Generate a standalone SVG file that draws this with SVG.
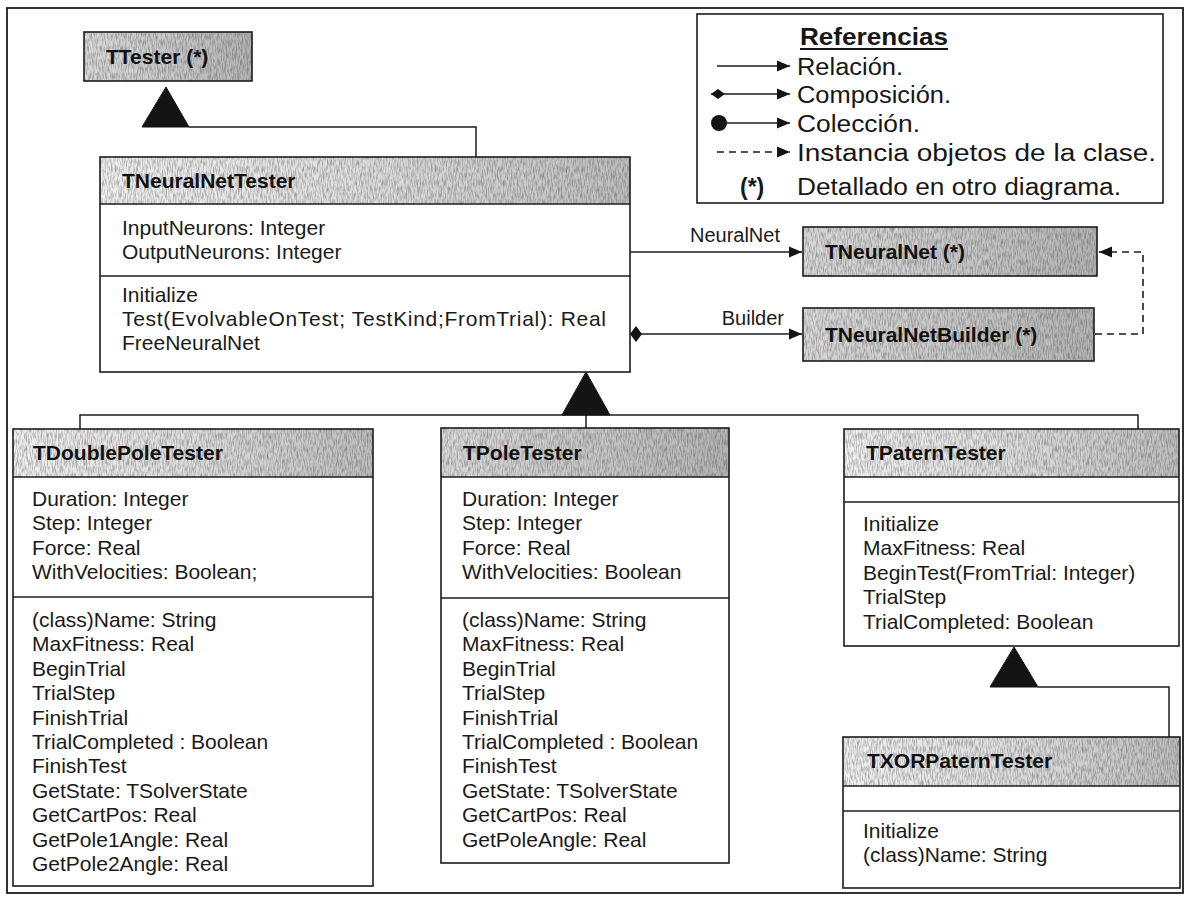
<svg xmlns="http://www.w3.org/2000/svg" width="1186" height="898" viewBox="0 0 1186 898">
  <style>
    .frame { fill: none; stroke: #1c1c1c; stroke-width: 1.8; }
    .box { fill: none; stroke: #1c1c1c; stroke-width: 1.6; }
    .body { fill: #ffffff; }
    .div { stroke: #1c1c1c; stroke-width: 1.4; }
    .title { font-family: "Liberation Sans", Arial, sans-serif; font-weight: bold; font-size: 21px; fill: #111; }
    .member { font-family: "Liberation Sans", Arial, sans-serif; font-size: 21px; fill: #1a1a1a; }
    .role { font-family: "Liberation Sans", Arial, sans-serif; font-size: 20px; fill: #1a1a1a; }
    .conn { fill: none; stroke: #1c1c1c; stroke-width: 1.5; }
    .dash { fill: none; stroke: #1c1c1c; stroke-width: 1.6; stroke-dasharray: 7 5; }
    .tri { fill: #141414; stroke: #141414; stroke-width: 1; }
    .legend { font-family: "Liberation Sans Narrow", "Liberation Sans", Arial, sans-serif; font-size: 23px; fill: #161616; }
    .legendhead { font-family: "Liberation Sans Narrow", "Liberation Sans", Arial, sans-serif; font-size: 23px; font-weight: bold; fill: #161616; }
  </style>
  <defs>
    <!-- shaded class headers -->
    <linearGradient id="hdrLight" x1="0" y1="0" x2="1" y2="0">
      <stop offset="0" stop-color="#f0f0f0"/>
      <stop offset="0.5" stop-color="#dddddd"/>
      <stop offset="1" stop-color="#bdbdbd"/>
    </linearGradient>
    <linearGradient id="hdrDark" x1="0" y1="0" x2="1" y2="0">
      <stop offset="0" stop-color="#d9d9d9"/>
      <stop offset="0.5" stop-color="#c8c8c8"/>
      <stop offset="1" stop-color="#b3b3b3"/>
    </linearGradient>
    <filter id="grain" x="0" y="0" width="1" height="1" color-interpolation-filters="sRGB">
      <feTurbulence type="fractalNoise" baseFrequency="0.8 0.15" numOctaves="2" seed="7" result="noise"/>
      <feColorMatrix in="noise" type="matrix" values="0 0 0 0 0.3  0 0 0 0 0.3  0 0 0 0 0.3  1.1 0 0 0 -0.42" result="specks"/>
      <feComposite in="specks" in2="SourceGraphic" operator="atop"/>
    </filter>
    <marker id="arrow" markerUnits="userSpaceOnUse" markerWidth="14" markerHeight="12" refX="13" refY="6" orient="auto">
      <path d="M0,0.5 L13,6 L0,11.5 Z" fill="#141414"/>
    </marker>
    <marker id="diamond" markerUnits="userSpaceOnUse" markerWidth="14" markerHeight="18" refX="1" refY="9" orient="auto">
      <path d="M1,9 L7,1 L13,9 L7,17 Z" fill="#141414"/>
    </marker>
    <marker id="flatDiamond" markerUnits="userSpaceOnUse" markerWidth="16" markerHeight="12" refX="1" refY="6" orient="auto">
      <path d="M1,6 L8,1 L15,6 L8,11 Z" fill="#141414"/>
    </marker>
  </defs>

  <rect width="1186" height="898" fill="#ffffff"/>
  <rect class="frame" x="7" y="8" width="1176" height="885"/>

  <!-- connectors -->
  <g id="connectors">
    <!-- TNeuralNetTester generalises TTester -->
    <polyline class="conn" points="189,127 476,127 476,157"/>
    <polygon class="tri" points="166,87 142,127 189,127"/>
    <!-- three testers generalise TNeuralNetTester -->
    <polyline class="conn" points="80,429 80,415 1138,415 1138,429"/>
    <line class="conn" x1="586" y1="415" x2="586" y2="428"/>
    <polygon class="tri" points="586,372 562,415 610,415"/>
    <!-- TXORPaternTester generalises TPaternTester -->
    <polyline class="conn" points="1038,687 1169,687 1169,737"/>
    <polygon class="tri" points="1014,647 990,687 1038,687"/>
    <!-- associations -->
    <line class="conn" x1="630" y1="252" x2="802" y2="252" marker-end="url(#arrow)"/>
    <text class="role" x="780" y="242" text-anchor="end">NeuralNet</text>
    <line class="conn" x1="630" y1="334" x2="802" y2="334" marker-start="url(#diamond)" marker-end="url(#arrow)"/>
    <text class="role" x="784" y="325" text-anchor="end">Builder</text>
    <!-- builder instantiates the net -->
    <polyline class="dash" points="1095,334 1143,334 1143,252 1099,252" marker-end="url(#arrow)"/>
  </g>

  <!-- legend -->
  <g id="legend">
    <rect class="box" x="697" y="14" width="466" height="189" fill="#ffffff" stroke-width="2"/>
    <text class="legendhead" x="800" y="45" textLength="148" lengthAdjust="spacingAndGlyphs">Referencias</text>
    <line x1="800" y1="49" x2="948" y2="49" stroke="#161616" stroke-width="2"/>
    <line class="conn" x1="717" y1="66" x2="790" y2="66" marker-end="url(#arrow)"/>
    <text class="legend" x="797" y="75" textLength="106" lengthAdjust="spacingAndGlyphs">Relación.</text>
    <line class="conn" x1="711" y1="94" x2="790" y2="94" marker-start="url(#flatDiamond)" marker-end="url(#arrow)"/>
    <text class="legend" x="797" y="103" textLength="154" lengthAdjust="spacingAndGlyphs">Composición.</text>
    <circle cx="719" cy="123" r="8" fill="#141414"/>
    <line class="conn" x1="719" y1="123" x2="790" y2="123" marker-end="url(#arrow)"/>
    <text class="legend" x="797" y="132" textLength="123" lengthAdjust="spacingAndGlyphs">Colección.</text>
    <line class="dash" x1="717" y1="152" x2="790" y2="152" stroke-dasharray="8 7" marker-end="url(#arrow)"/>
    <text class="legend" x="797" y="161" textLength="359" lengthAdjust="spacingAndGlyphs">Instancia objetos de la clase.</text>
    <text class="legendhead" x="740" y="195" font-size="20">(*)</text>
    <text class="legend" x="797" y="195" textLength="324" lengthAdjust="spacingAndGlyphs">Detallado en otro diagrama.</text>
  </g>

  <!-- classes -->
  <g id="ttester">
    <rect x="84" y="32" width="168" height="49" fill="url(#hdrDark)" filter="url(#grain)"/>
    <rect class="box" x="84" y="32" width="168" height="49"/>
    <text class="title" x="106" y="64">TTester (*)</text>
  </g>

  <g id="tneuralnettester">
    <rect class="body" x="100" y="157" width="530" height="215"/>
    <rect x="100" y="157" width="530" height="47" fill="url(#hdrLight)" filter="url(#grain)"/>
    <rect class="box" x="100" y="157" width="530" height="215"/>
    <line class="div" x1="100" y1="204" x2="630" y2="204"/>
    <line class="div" x1="100" y1="276" x2="630" y2="276"/>
    <text class="title" x="122" y="188">TNeuralNetTester</text>
    <text class="member">
      <tspan x="122" y="235">InputNeurons: Integer</tspan>
      <tspan x="122" y="259">OutputNeurons: Integer</tspan>
      <tspan x="122" y="302">Initialize</tspan>
    </text>
    <text class="member" x="122" y="326" textLength="484" lengthAdjust="spacing">Test(EvolvableOnTest; TestKind;FromTrial): Real</text>
    <text class="member" x="122" y="350">FreeNeuralNet</text>
  </g>

  <g id="tneuralnet">
    <rect x="803" y="227" width="294" height="49" fill="url(#hdrDark)" filter="url(#grain)"/>
    <rect class="box" x="803" y="227" width="294" height="49"/>
    <text class="title" x="825" y="259">TNeuralNet (*)</text>
  </g>

  <g id="tneuralnetbuilder">
    <rect x="803" y="308" width="291" height="53" fill="url(#hdrDark)" filter="url(#grain)"/>
    <rect class="box" x="803" y="308" width="291" height="53"/>
    <text class="title" x="825" y="342">TNeuralNetBuilder (*)</text>
  </g>

  <g id="tdoublepoletester">
    <rect x="13" y="429" width="360" height="48" fill="url(#hdrLight)" filter="url(#grain)"/>
    <rect class="box" x="13" y="429" width="360" height="457"/>
    <line class="div" x1="13" y1="477" x2="373" y2="477"/>
    <line class="div" x1="13" y1="597" x2="373" y2="597"/>
    <text class="title" x="33" y="460">TDoublePoleTester</text>
    <text class="member">
      <tspan x="32" y="506">Duration: Integer</tspan>
      <tspan x="32" y="530.4">Step: Integer</tspan>
      <tspan x="32" y="554.8">Force: Real</tspan>
      <tspan x="32" y="579.2">WithVelocities: Boolean;</tspan>
      <tspan x="32" y="627">(class)Name: String</tspan>
      <tspan x="32" y="651.4">MaxFitness: Real</tspan>
      <tspan x="32" y="675.8">BeginTrial</tspan>
      <tspan x="32" y="700.2">TrialStep</tspan>
      <tspan x="32" y="724.6">FinishTrial</tspan>
      <tspan x="32" y="749">TrialCompleted : Boolean</tspan>
      <tspan x="32" y="773.4">FinishTest</tspan>
      <tspan x="32" y="797.8">GetState: TSolverState</tspan>
      <tspan x="32" y="822.2">GetCartPos: Real</tspan>
      <tspan x="32" y="846.6">GetPole1Angle: Real</tspan>
      <tspan x="32" y="871">GetPole2Angle: Real</tspan>
    </text>
  </g>

  <g id="tpoletester">
    <rect x="441" y="428" width="288" height="49" fill="url(#hdrDark)" filter="url(#grain)"/>
    <rect class="box" x="441" y="428" width="288" height="435"/>
    <line class="div" x1="441" y1="477" x2="729" y2="477"/>
    <line class="div" x1="441" y1="598" x2="729" y2="598"/>
    <text class="title" x="463" y="460">TPoleTester</text>
    <text class="member">
      <tspan x="462" y="506">Duration: Integer</tspan>
      <tspan x="462" y="530.4">Step: Integer</tspan>
      <tspan x="462" y="554.8">Force: Real</tspan>
      <tspan x="462" y="579.2">WithVelocities: Boolean</tspan>
      <tspan x="462" y="627">(class)Name: String</tspan>
      <tspan x="462" y="651.4">MaxFitness: Real</tspan>
      <tspan x="462" y="675.8">BeginTrial</tspan>
      <tspan x="462" y="700.2">TrialStep</tspan>
      <tspan x="462" y="724.6">FinishTrial</tspan>
      <tspan x="462" y="749">TrialCompleted : Boolean</tspan>
      <tspan x="462" y="773.4">FinishTest</tspan>
      <tspan x="462" y="797.8">GetState: TSolverState</tspan>
      <tspan x="462" y="822.2">GetCartPos: Real</tspan>
      <tspan x="462" y="846.6">GetPoleAngle: Real</tspan>
    </text>
  </g>

  <g id="tpaterntester">
    <rect x="844" y="429" width="335" height="48" fill="url(#hdrLight)" filter="url(#grain)"/>
    <rect class="box" x="844" y="429" width="335" height="217"/>
    <line class="div" x1="844" y1="477" x2="1179" y2="477"/>
    <line class="div" x1="844" y1="502" x2="1179" y2="502"/>
    <text class="title" x="866" y="460">TPaternTester</text>
    <text class="member">
      <tspan x="863" y="531">Initialize</tspan>
      <tspan x="863" y="555.4">MaxFitness: Real</tspan>
      <tspan x="863" y="579.8">BeginTest(FromTrial: Integer)</tspan>
      <tspan x="863" y="604.2">TrialStep</tspan>
      <tspan x="863" y="628.6">TrialCompleted: Boolean</tspan>
    </text>
  </g>

  <g id="txorpaterntester">
    <rect x="843" y="737" width="337" height="49" fill="url(#hdrLight)" filter="url(#grain)"/>
    <rect class="box" x="843" y="737" width="337" height="151"/>
    <line class="div" x1="843" y1="786" x2="1180" y2="786"/>
    <line class="div" x1="843" y1="811" x2="1180" y2="811"/>
    <text class="title" x="867" y="768">TXORPaternTester</text>
    <text class="member">
      <tspan x="863" y="838">Initialize</tspan>
      <tspan x="863" y="862.4">(class)Name: String</tspan>
    </text>
  </g>
</svg>
